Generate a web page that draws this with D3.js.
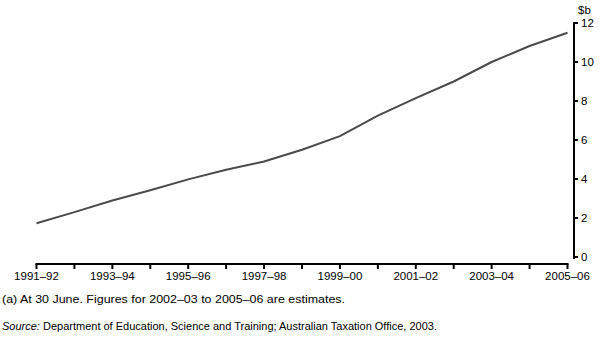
<!DOCTYPE html>
<html><head><meta charset="utf-8">
<script src="https://cdn.jsdelivr.net/npm/d3@7"></script>
<style>
body{margin:0;background:#fff;}
text{font-family:"Liberation Sans",Arial,sans-serif;fill:#000;}
</style></head>
<body><svg id="c" width="605" height="339"></svg>
<script>
const years = ["1991–92","1992–93","1993–94","1994–95","1995–96","1996–97","1997–98","1998–99","1999–00","2000–01","2001–02","2002–03","2003–04","2004–05","2005–06"];
const values = [1.73,2.3,2.9,3.42,3.98,4.47,4.9,5.5,6.2,7.25,8.15,9.0,10.0,10.82,11.5];
const yTicks = [0,2,4,6,8,10,12];
const unitLabel = "$b";
const footnote = "(a) At 30 June. Figures for 2002–03 to 2005–06 are estimates.";
const sourceLabel = "Source:";
const sourceText = " Department of Education, Science and Training; Australian Taxation Office, 2003.";

const svg = d3.select("#c");
const x = d3.scalePoint().domain(years).range([36.5, 567.5]);
const y = d3.scaleLinear().domain([0,12]).range([257, 23]);

// line
svg.append("path").datum(values.map((v,i)=>[years[i],v]))
  .attr("fill","none").attr("stroke","#4a4a4a").attr("stroke-width",2)
  .attr("d", d3.line().x(d=>x(d[0])).y(d=>y(d[1])));

// x axis
const xa = svg.append("g").attr("transform","translate(0,264)");
xa.append("line").attr("x1",x(years[0])-1).attr("x2",x(years[years.length-1])+1)
  .attr("stroke","#000").attr("stroke-width",2);
xa.selectAll("line.t").data(years).join("line").attr("class","t")
  .attr("x1",d=>x(d)).attr("x2",d=>x(d)).attr("y1",0).attr("y2",5)
  .attr("stroke","#000").attr("stroke-width",2);
xa.selectAll("text").data(years.filter((d,i)=>i%2===0)).join("text")
  .attr("x",d=>x(d)).attr("y",16).attr("text-anchor","middle")
  .attr("font-size","11.5px").text(d=>d);

// y axis
const ya = svg.append("g").attr("transform","translate(574,0)");
ya.append("line").attr("y1",y(12)-1).attr("y2",y(0)+2).attr("stroke","#000").attr("stroke-width",2);
ya.selectAll("line.t").data(yTicks).join("line").attr("class","t")
  .attr("x1",0).attr("x2",4).attr("y1",d=>y(d)).attr("y2",d=>y(d))
  .attr("stroke","#000").attr("stroke-width",2);
ya.selectAll("text").data(yTicks).join("text")
  .attr("x",7).attr("y",d=>y(d)+4).attr("font-size","11.5px").text(d=>d);
svg.append("text").attr("x",578).attr("y",14).attr("font-size","11.5px").text(unitLabel);

// notes
svg.append("text").attr("x",2).attr("y",303).attr("font-size","11px")
  .attr("textLength",343).attr("lengthAdjust","spacingAndGlyphs").text(footnote);
const s = svg.append("text").attr("x",2).attr("y",330).attr("font-size","11px");
s.append("tspan").attr("font-style","italic").text(sourceLabel);
s.append("tspan").text(sourceText);
</script></body></html>
